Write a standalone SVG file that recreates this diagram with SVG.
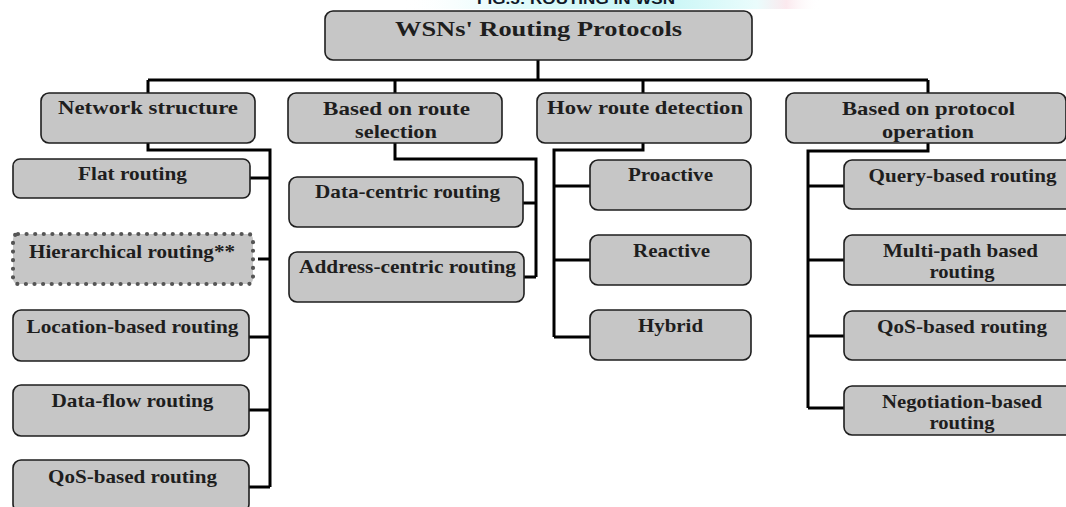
<svg xmlns="http://www.w3.org/2000/svg" width="1066" height="507" viewBox="0 0 1066 507">
  <defs>
    <linearGradient id="bannerFade" x1="0" y1="0" x2="1" y2="0">
      <stop offset="0" stop-color="#ffffff" stop-opacity="0"/>
      <stop offset="0.25" stop-color="#e4fbfb"/>
      <stop offset="0.6" stop-color="#c4f5f5"/>
      <stop offset="0.85" stop-color="#eafcfc"/>
      <stop offset="0.92" stop-color="#fbe9ee"/>
      <stop offset="1" stop-color="#ffffff" stop-opacity="0"/>
    </linearGradient>
    <style>
      .box { fill: #c6c6c6; stroke: #1e1e1e; stroke-width: 1.6; }
      .dotted { fill: #c6c6c6; stroke: #555555; stroke-width: 4.2; stroke-dasharray: 0 8.6; stroke-linecap: round; }
      .lbl { font-family: "Liberation Serif", "Times New Roman", serif; font-weight: bold; font-size: 19px; fill: #1e1e1e; text-anchor: middle; }
      .root { font-size: 22px; }
      .wire { fill: none; stroke: #000000; stroke-width: 3; stroke-linejoin: miter; }
      .banner { font-family: "Liberation Sans", Arial, sans-serif; font-weight: bold; font-size: 14px; fill: #101828; text-anchor: middle; }
    </style>
  </defs>

  <rect width="1066" height="507" fill="#ffffff"/>

  <!-- caption strip along the top edge -->
  <g id="caption">
    <rect x="400" y="0" width="420" height="9" fill="url(#bannerFade)"/>
    <text class="banner" x="576" y="4" textLength="198" lengthAdjust="spacingAndGlyphs">FIG.5: ROUTING IN WSN</text>
  </g>

  <!-- connectors -->
  <g id="connectors" class="wire">
    <!-- root to categories -->
    <path d="M538 60 V80"/>
    <path d="M148 80 H928"/>
    <path d="M148 80 V93 M395 80 V93 M643 80 V93 M928 80 V93"/>
    <!-- network structure -->
    <path d="M148 143 V150 H270 V487"/>
    <path d="M250 178 H270 M258 259 H270 M249 337 H270 M249 410 H270 M249 487 H270"/>
    <!-- route selection -->
    <path d="M395 143 V159 H536 V277"/>
    <path d="M523 203 H536 M524 277 H536"/>
    <!-- route detection -->
    <path d="M643 143 V150 H554 V337"/>
    <path d="M554 186 H590 M554 260 H590 M554 337 H590"/>
    <!-- protocol operation -->
    <path d="M928 143 V151 H808 V408"/>
    <path d="M808 186 H845 M808 260 H845 M808 336 H845 M808 408 H845"/>
  </g>

  <!-- root -->
  <g id="root">
    <rect class="box" x="325" y="11" width="427" height="49" rx="8"/>
    <text class="lbl root" x="538.5" y="36" textLength="287" lengthAdjust="spacingAndGlyphs">WSNs' Routing Protocols</text>
  </g>

  <!-- categories -->
  <g id="network-structure">
    <rect class="box" x="41" y="93" width="214" height="50" rx="8"/>
    <text class="lbl" x="148" y="114" textLength="180" lengthAdjust="spacingAndGlyphs">Network structure</text>
  </g>
  <g id="route-selection">
    <rect class="box" x="288" y="93" width="214" height="50" rx="8"/>
    <text class="lbl" x="396.5" y="115" textLength="147" lengthAdjust="spacingAndGlyphs">Based on route</text>
    <text class="lbl" x="396" y="138" textLength="82" lengthAdjust="spacingAndGlyphs">selection</text>
  </g>
  <g id="route-detection">
    <rect class="box" x="537" y="93" width="214" height="50" rx="8"/>
    <text class="lbl" x="645" y="114" textLength="196" lengthAdjust="spacingAndGlyphs">How route detection</text>
  </g>
  <g id="protocol-operation">
    <rect class="box" x="786" y="93" width="280" height="50" rx="8"/>
    <text class="lbl" x="928.5" y="115" textLength="173" lengthAdjust="spacingAndGlyphs">Based on protocol</text>
    <text class="lbl" x="928" y="138" textLength="92" lengthAdjust="spacingAndGlyphs">operation</text>
  </g>

  <!-- network structure children -->
  <g id="flat-routing">
    <rect class="box" x="13" y="159" width="237" height="39" rx="7"/>
    <text class="lbl" x="132.5" y="180" textLength="109" lengthAdjust="spacingAndGlyphs">Flat routing</text>
  </g>
  <g id="hierarchical-routing">
    <rect class="dotted" x="13" y="234" width="240" height="50" rx="5"/>
    <text class="lbl" x="132" y="258" textLength="206" lengthAdjust="spacingAndGlyphs">Hierarchical routing**</text>
  </g>
  <g id="location-based-routing">
    <rect class="box" x="13" y="310" width="236" height="51" rx="8"/>
    <text class="lbl" x="132.5" y="333" textLength="212" lengthAdjust="spacingAndGlyphs">Location-based routing</text>
  </g>
  <g id="data-flow-routing">
    <rect class="box" x="13" y="385" width="236" height="51" rx="8"/>
    <text class="lbl" x="132.5" y="407" textLength="162" lengthAdjust="spacingAndGlyphs">Data-flow routing</text>
  </g>
  <g id="qos-routing-left">
    <rect class="box" x="13" y="460" width="236" height="52" rx="8"/>
    <text class="lbl" x="132.5" y="483" textLength="169" lengthAdjust="spacingAndGlyphs">QoS-based routing</text>
  </g>

  <!-- route selection children -->
  <g id="data-centric-routing">
    <rect class="box" x="289" y="177" width="234" height="50" rx="8"/>
    <text class="lbl" x="407.5" y="198" textLength="185" lengthAdjust="spacingAndGlyphs">Data-centric routing</text>
  </g>
  <g id="address-centric-routing">
    <rect class="box" x="289" y="252" width="235" height="50" rx="8"/>
    <text class="lbl" x="407.5" y="273" textLength="217" lengthAdjust="spacingAndGlyphs">Address-centric routing</text>
  </g>

  <!-- route detection children -->
  <g id="proactive">
    <rect class="box" x="590" y="160" width="161" height="50" rx="8"/>
    <text class="lbl" x="670.5" y="181" textLength="85" lengthAdjust="spacingAndGlyphs">Proactive</text>
  </g>
  <g id="reactive">
    <rect class="box" x="590" y="235" width="161" height="50" rx="8"/>
    <text class="lbl" x="671.5" y="257" textLength="77" lengthAdjust="spacingAndGlyphs">Reactive</text>
  </g>
  <g id="hybrid">
    <rect class="box" x="590" y="310" width="161" height="50" rx="8"/>
    <text class="lbl" x="670.5" y="332" textLength="65" lengthAdjust="spacingAndGlyphs">Hybrid</text>
  </g>

  <!-- protocol operation children -->
  <g id="query-based-routing">
    <rect class="box" x="844" y="160" width="240" height="49" rx="8"/>
    <text class="lbl" x="962.5" y="182" textLength="188" lengthAdjust="spacingAndGlyphs">Query-based routing</text>
  </g>
  <g id="multi-path-routing">
    <rect class="box" x="844" y="235" width="240" height="50" rx="8"/>
    <text class="lbl" x="960.5" y="257" textLength="155" lengthAdjust="spacingAndGlyphs">Multi-path based</text>
    <text class="lbl" x="962" y="278" textLength="65" lengthAdjust="spacingAndGlyphs">routing</text>
  </g>
  <g id="qos-routing-right">
    <rect class="box" x="844" y="311" width="240" height="49" rx="8"/>
    <text class="lbl" x="962" y="333" textLength="170" lengthAdjust="spacingAndGlyphs">QoS-based routing</text>
  </g>
  <g id="negotiation-routing">
    <rect class="box" x="844" y="386" width="240" height="49" rx="8"/>
    <text class="lbl" x="962" y="408" textLength="160" lengthAdjust="spacingAndGlyphs">Negotiation-based</text>
    <text class="lbl" x="962" y="429" textLength="65" lengthAdjust="spacingAndGlyphs">routing</text>
  </g>
</svg>
